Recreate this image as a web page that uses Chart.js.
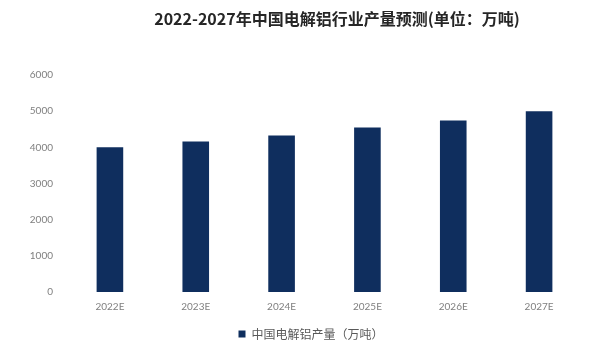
<!DOCTYPE html>
<html><head><meta charset="utf-8">
<script src="https://cdn.jsdelivr.net/npm/chart.js@4"></script>
<style>html,body{margin:0;padding:0;background:#fff}#w{width:616px;height:357px}</style>
</head><body><div id="w"><canvas id="c"></canvas></div>
<script>
const categories = ['2022E','2023E','2024E','2025E','2026E','2027E'];
const production = [4000, 4160, 4330, 4550, 4740, 5000];
const seriesName = '中国电解铝产量（万吨）';
const titleText = '2022-2027年中国电解铝行业产量预测(单位：万吨)';

const titlePlugin = {
  id: 'customTitle',
  afterLayout(chart) {
    if (chart.legend) {
      chart.legend.left += 12; chart.legend.right += 12;
      chart.legend.top -= 4; chart.legend.bottom -= 4;
    }
  },
  afterDraw(chart) {
    const ctx = chart.ctx;
    ctx.save();
    ctx.font = 'bold 16px "Noto Sans CJK SC", sans-serif';
    ctx.fillStyle = '#262626';
    ctx.textAlign = 'center';
    ctx.textBaseline = 'middle';
    ctx.fillText(titleText, 337, 19);
    ctx.restore();
  }
};

new Chart(document.getElementById('c'), {
  type: 'bar',
  data: {
    labels: categories,
    datasets: [{
      label: seriesName,
      data: production,
      backgroundColor: '#0f2e5e',
      barPercentage: 0.31,
      categoryPercentage: 1.0
    }]
  },
  options: {
    responsive: true,
    maintainAspectRatio: false,
    animation: false,
    devicePixelRatio: 1,
    layout: { padding: { top: 75, left: 16, right: 34, bottom: 3 } },
    plugins: {
      title: { display: false },
      tooltip: { enabled: false },
      legend: {
        position: 'bottom',
        labels: {
          boxWidth: 7, boxHeight: 7,
          padding: 10,
          color: '#595959',
          font: { size: 12, family: '"Noto Sans CJK SC", sans-serif' }
        }
      }
    },
    scales: {
      x: {
        grid: { display: false, drawTicks: false },
        border: { display: false },
        ticks: { color: '#7f7f7f', padding: 9, font: { size: 10, family: 'Lato, sans-serif' } }
      },
      y: {
        min: 0, max: 6000,
        grid: { display: false, drawTicks: false },
        border: { display: false },
        afterFit: s => { s.width = 51; },
        ticks: { stepSize: 1000, color: '#7f7f7f', padding: 14, font: { size: 10, family: 'Lato, sans-serif' },
          callback: v => String(v) }
      }
    }
  },
  plugins: [titlePlugin]
});
</script></body></html>
